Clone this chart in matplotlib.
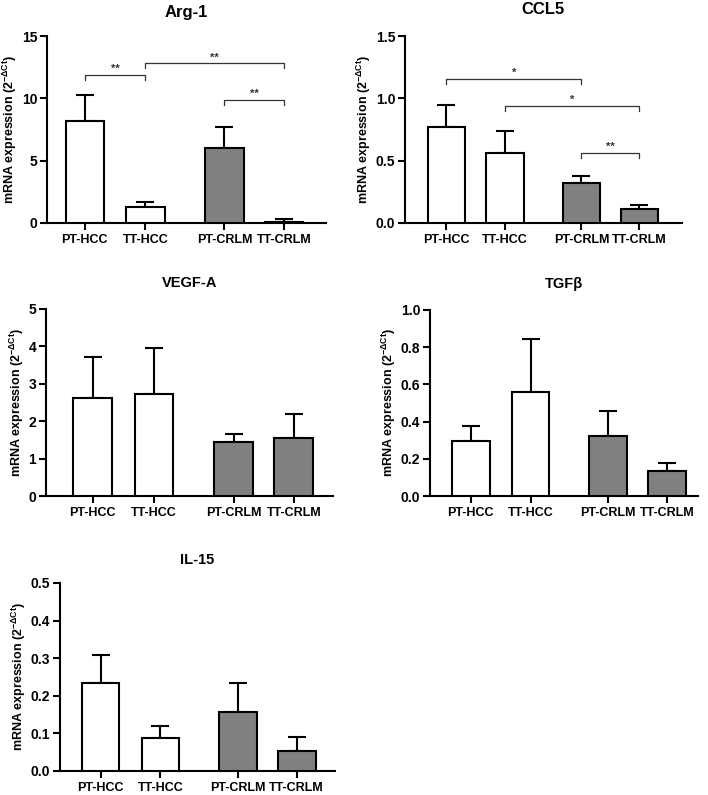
"""qPCR mRNA expression panels (Arg-1, CCL5, VEGF-A, TGFβ, IL-15)."""
import matplotlib
matplotlib.use('Agg')
import matplotlib.pyplot as plt

plt.rcParams['font.family'] = ['Liberation Sans', 'DejaVu Sans']
plt.rcParams['font.weight'] = 'bold'
plt.rcParams['mathtext.fontset'] = 'custom'
plt.rcParams['mathtext.rm'] = 'Liberation Sans'
plt.rcParams['mathtext.it'] = 'Liberation Sans'
plt.rcParams['axes.linewidth'] = 1.5

# ---- data ----
groups = ['PT-HCC', 'TT-HCC', 'PT-CRLM', 'TT-CRLM']
bar_x = [0, 1, 2.3, 3.28]
fills = ['white', 'white', '#808080', '#808080']

arg1_mean = [8.2, 1.3, 6.0, 0.12]
arg1_sem = [2.1, 0.4, 1.68, 0.18]
ccl5_mean = [0.77, 0.56, 0.32, 0.115]
ccl5_sem = [0.175, 0.175, 0.06, 0.03]
vegf_mean = [2.62, 2.74, 1.44, 1.56]
vegf_sem = [1.1, 1.21, 0.21, 0.64]
tgfb_mean = [0.297, 0.557, 0.322, 0.133]
tgfb_sem = [0.078, 0.287, 0.134, 0.047]
il15_mean = [0.235, 0.088, 0.158, 0.053]
il15_sem = [0.074, 0.033, 0.075, 0.037]

# significance brackets: (group i, group j, height, label)
arg1_sig = [(0, 1, 11.85, '**'), (1, 3, 12.8, '**'), (2, 3, 9.9, '**')]
ccl5_sig = [(0, 2, 1.155, '*'), (1, 3, 0.94, '*'), (2, 3, 0.56, '**')]

W, H = 708, 795
fig = plt.figure(figsize=(W / 100, H / 100), dpi=100)


def panel(px, xlim, title, tsize, tpad, mean, sem, ylim, yticks, yfmt, sig=None, tick_h=0.0):
    l, r, t, b = px
    ax = fig.add_axes([l / W, 1 - b / H, (r - l) / W, (b - t) / H])
    ax.bar(bar_x, mean, width=0.63, color=fills, edgecolor='black',
           linewidth=1.5, zorder=3)
    ax.errorbar(bar_x, mean, yerr=[[0] * 4, sem], fmt='none', ecolor='black',
                elinewidth=1.5, capsize=6.5, capthick=1.5, zorder=2)
    ax.set_xlim(*xlim)
    ax.set_ylim(*ylim)
    ax.set_yticks(yticks)
    ax.set_yticklabels([yfmt.format(v) for v in yticks], fontsize=10, fontweight='bold')
    ax.set_xticks(bar_x)
    ax.set_xticklabels(groups, fontsize=9, fontweight='bold')
    ax.tick_params(direction='out', width=1.5, length=5)
    ax.tick_params(axis='y', pad=2)
    ax.tick_params(axis='x', pad=3)
    for s in ['top', 'right']:
        ax.spines[s].set_visible(False)
    ax.set_ylabel(r'mRNA expression (2$^{-\Delta Ct}$)', fontsize=9, fontweight='bold',
                  labelpad=2)
    ax.set_title(title, fontsize=tsize, fontweight='bold', pad=tpad)
    if sig:
        for i, j, y, lab in sig:
            x0, x1 = bar_x[i], bar_x[j]
            ax.plot([x0, x0, x1, x1], [y - tick_h, y, y, y - tick_h],
                    color='#333333', lw=0.9, clip_on=False)
            ax.text((x0 + x1) / 2, y + tick_h * 0.2, lab, ha='center', va='bottom',
                    fontsize=8, color='#333333')
    return ax


panel((47, 326, 36, 223), (-0.62, 3.97), 'Arg-1', 12, 14, arg1_mean, arg1_sem,
      (0, 15), [0, 5, 10, 15], '{:.0f}', arg1_sig, tick_h=0.4)
panel((405, 682, 36, 223), (-0.70, 4.01), 'CCL5', 12, 16, ccl5_mean, ccl5_sem,
      (0, 1.5), [0, 0.5, 1.0, 1.5], '{:.1f}', ccl5_sig, tick_h=0.04)
panel((46, 333, 309, 496), (-0.76, 3.92), 'VEGF-A', 10.5, 16, vegf_mean, vegf_sem,
      (0, 5), [0, 1, 2, 3, 4, 5], '{:.0f}')
panel((430, 698, 310, 496), (-0.68, 3.80), 'TGFβ', 10.5, 16, tgfb_mean, tgfb_sem,
      (0, 1.0), [0, 0.2, 0.4, 0.6, 0.8, 1.0], '{:.1f}')
panel((60, 335, 583, 771), (-0.68, 3.92), 'IL-15', 10.5, 14, il15_mean, il15_sem,
      (0, 0.5), [0, 0.1, 0.2, 0.3, 0.4, 0.5], '{:.1f}')

fig.savefig('out.png', dpi=100)
